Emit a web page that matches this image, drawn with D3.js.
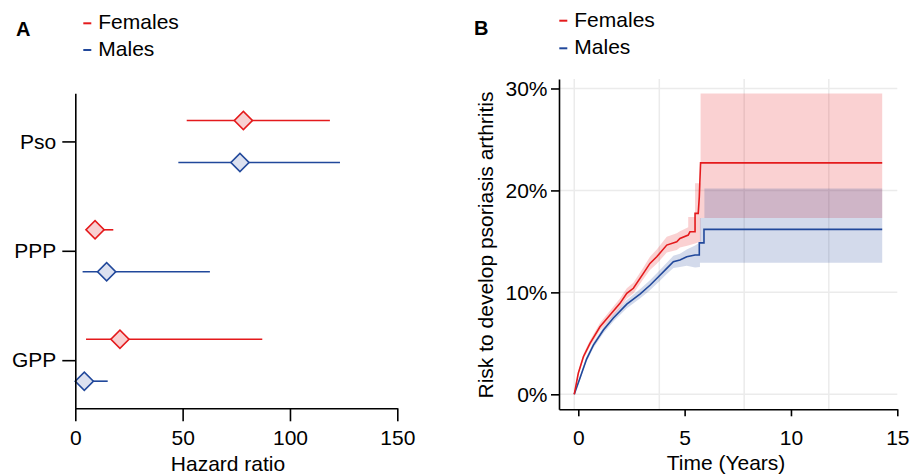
<!DOCTYPE html>
<html>
<head>
<meta charset="utf-8">
<script src="https://cdn.jsdelivr.net/npm/d3@7"></script>
<style>
  body { margin: 0; background: #fff; }
  svg { display: block; font-family: "Liberation Sans", Arial, sans-serif; }
</style>
</head>
<body>
<div id="chart"></div>
<script>
// Panel A: hazard ratios by condition and sex
const conditions = ["Pso", "PPP", "GPP"];
const sexes = ["Females", "Males"];
const hrFemales = [78.3, 9.2, 20.8];
const lowFemales = [51.9, 5.5, 5.0];
const highFemales = [118.6, 17.7, 87.1];
const hrMales = [76.7, 14.6, 4.2];
const lowMales = [48.0, 3.4, 1.0];
const highMales = [123.3, 62.7, 15.1];
const hrTicks = [0, 50, 100, 150];

// Panel B: cumulative risk (%) over time (years)
const femaleTime = [-0.19, 0.0, 0.24, 0.55, 1.02, 1.49, 1.96, 2.28, 2.59, 3.06, 3.37, 3.69, 4.16, 4.63, 4.78, 5.17, 5.25, 5.49, 5.49, 5.64, 5.69, 5.75, 14.29];
const femaleRisk = [0, 2.06, 3.69, 5.0, 6.63, 7.77, 8.92, 9.9, 10.4, 11.86, 12.84, 13.49, 14.64, 14.96, 15.29, 15.62, 15.94, 15.94, 17.75, 17.75, 19.37, 22.7, 22.7];
const femaleBandTime = [-0.19, 0.0, 0.24, 0.55, 1.02, 1.49, 1.96, 2.28, 2.59, 3.06, 3.37, 3.69, 4.16, 4.63, 4.78, 5.17, 5.17, 5.49, 5.49, 5.75, 5.75, 14.29];
const femaleLower = [0, 1.9, 3.45, 4.7, 6.25, 7.35, 8.45, 9.4, 9.9, 11.3, 12.2, 12.8, 13.9, 14.15, 14.4, 14.6, 14.6, 14.8, 14.8, 15.0, 17.3, 17.3];
const femaleUpper = [0, 2.25, 3.95, 5.3, 7.0, 8.2, 9.4, 10.4, 10.95, 12.45, 13.5, 14.2, 15.45, 15.8, 16.0, 16.4, 17.4, 17.4, 20.7, 20.7, 29.5, 29.5];

const maleTime = [-0.19, 0.08, 0.39, 0.71, 1.18, 1.65, 2.28, 2.9, 3.37, 3.84, 4.16, 4.47, 4.78, 5.1, 5.49, 5.69, 5.69, 5.91, 5.91, 14.29];
const maleRisk = [0, 1.6, 3.46, 4.83, 6.3, 7.48, 8.85, 9.83, 10.7, 11.68, 12.35, 13.0, 13.17, 13.49, 13.66, 13.66, 14.86, 14.86, 16.18, 16.18];
const maleBandTime = [-0.19, 0.08, 0.39, 0.71, 1.18, 1.65, 2.28, 2.9, 3.37, 3.84, 4.16, 4.47, 4.78, 5.1, 5.49, 5.72, 5.72, 5.93, 5.93, 14.29];
const maleLower = [0, 1.4, 3.2, 4.55, 6.0, 7.15, 8.45, 9.4, 10.2, 11.15, 11.8, 12.4, 12.5, 12.6, 12.45, 12.5, 12.9, 12.9, 12.9, 12.9];
const maleUpper = [0, 1.8, 3.7, 5.1, 6.6, 7.8, 9.25, 10.3, 11.2, 12.2, 12.9, 13.6, 13.8, 14.2, 14.6, 14.9, 17.3, 17.3, 20.2, 20.2];

const gridYears = [-0.19, 3.81, 7.8, 11.78];
const timeTicks = [0, 5, 10, 15];
const riskTicks = [0, 10, 20, 30];

const colors = { Females: "#e41a1c", Males: "#21489b" };
const fills = { Females: "#f8d0d2", Males: "#dce1f0" };

const svg = d3.select("#chart")
  .append("svg")
  .attr("width", 911)
  .attr("height", 475);

function addLegend(x, y, gap) {
  sexes.forEach((s, i) => {
    svg.append("line")
      .attr("x1", x).attr("x2", x + 8)
      .attr("y1", y + i * gap - 6).attr("y2", y + i * gap - 6)
      .attr("stroke", colors[s])
      .attr("stroke-width", 2);
    svg.append("text")
      .attr("x", x + 15)
      .attr("y", y + i * gap)
      .style("font-size", "21px")
      .text(s);
  });
}

function styleAxis(g) {
  g.selectAll("path, line").attr("stroke", "#000").attr("stroke-width", 1.6);
  g.selectAll("text").style("font-size", "21px").attr("fill", "#000").style("font-family", "Liberation Sans, Arial, sans-serif");
}

function createForestPlot() {
  const x = d3.scaleLinear().domain([0, 150]).range([75.3, 397.3]);
  const y = d3.scalePoint().domain(conditions).range([93.3, 408.3]).padding(0.44);
  const off = d3.scalePoint().domain(sexes).range([-21, 21]);

  svg.append("text")
    .attr("x", 16).attr("y", 36)
    .style("font-size", "20px").style("font-weight", "bold")
    .text("A");
  addLegend(83.3, 29.3, 26.7);

  const series = [
    { sex: "Females", hr: hrFemales, low: lowFemales, high: highFemales },
    { sex: "Males", hr: hrMales, low: lowMales, high: highMales }
  ];

  series.forEach(s => {
    const rows = conditions.map((c, i) => ({ c, hr: s.hr[i], low: s.low[i], high: s.high[i] }));
    const g = svg.append("g");
    g.selectAll("line")
      .data(rows)
      .enter()
      .append("line")
      .attr("x1", d => x(d.low))
      .attr("x2", d => x(d.high))
      .attr("y1", d => y(d.c) + off(s.sex))
      .attr("y2", d => y(d.c) + off(s.sex))
      .attr("stroke", colors[s.sex])
      .attr("stroke-width", 1.6);
    g.selectAll("path")
      .data(rows)
      .enter()
      .append("path")
      .attr("d", d3.symbol(d3.symbolSquare, 165))
      .attr("transform", d => `translate(${x(d.hr)},${y(d.c) + off(s.sex)}) rotate(45)`)
      .attr("fill", fills[s.sex])
      .attr("stroke", colors[s.sex])
      .attr("stroke-width", 1.6);
  });

  svg.append("g")
    .attr("transform", "translate(75.3,0)")
    .call(d3.axisLeft(y).tickSize(13).tickSizeOuter(0).tickPadding(6))
    .call(styleAxis);

  svg.append("g")
    .attr("transform", "translate(0,408.3)")
    .call(d3.axisBottom(x).tickValues(hrTicks).tickSize(13).tickSizeOuter(0).tickPadding(9))
    .call(styleAxis);

  svg.append("text")
    .attr("x", 228).attr("y", 470.5)
    .style("text-anchor", "middle")
    .style("font-size", "21px")
    .text("Hazard ratio");
}

function createRiskPlot() {
  const x = d3.scaleLinear().domain([-0.907, 15]).range([559, 897.3]);
  const y = d3.scaleLinear().domain([-1.47, 30.93]).range([409.3, 79]);

  svg.append("text")
    .attr("x", 474).attr("y", 35)
    .style("font-size", "20px").style("font-weight", "bold")
    .text("B");
  addLegend(559.3, 26.7, 27.6);

  // grid
  svg.append("g").selectAll("line")
    .data(gridYears)
    .enter()
    .append("line")
    .attr("x1", d => x(d)).attr("x2", d => x(d))
    .attr("y1", y.range()[1]).attr("y2", y.range()[0])
    .attr("stroke", "#ebebeb").attr("stroke-width", 1.5);
  svg.append("g").selectAll("line")
    .data(riskTicks)
    .enter()
    .append("line")
    .attr("x1", x.range()[0]).attr("x2", x.range()[1])
    .attr("y1", d => y(d)).attr("y2", d => y(d))
    .attr("stroke", "#ebebeb").attr("stroke-width", 1.5);

  const bands = [
    { sex: "Females", t: femaleBandTime, lo: femaleLower, hi: femaleUpper },
    { sex: "Males", t: maleBandTime, lo: maleLower, hi: maleUpper }
  ];
  const area = d3.area()
    .x(d => x(d.t))
    .y0(d => y(d.lo))
    .y1(d => y(d.hi));
  bands.forEach(b => {
    const rows = b.t.map((t, i) => ({ t, lo: b.lo[i], hi: b.hi[i] }));
    svg.append("path")
      .datum(rows)
      .attr("d", area)
      .attr("fill", colors[b.sex])
      .attr("fill-opacity", 0.2);
  });

  const curves = [
    { sex: "Males", t: maleTime, v: maleRisk },
    { sex: "Females", t: femaleTime, v: femaleRisk }
  ];
  const line = d3.line()
    .x(d => x(d.t))
    .y(d => y(d.v));
  curves.forEach(c => {
    const rows = c.t.map((t, i) => ({ t, v: c.v[i] }));
    svg.append("path")
      .datum(rows)
      .attr("d", line)
      .attr("fill", "none")
      .attr("stroke", colors[c.sex])
      .attr("stroke-width", 1.6);
  });

  svg.append("g")
    .attr("transform", "translate(559,0)")
    .call(d3.axisLeft(y).tickValues(riskTicks).tickFormat(d => d + "%").tickSize(8).tickSizeOuter(0).tickPadding(3.5))
    .call(styleAxis);

  svg.append("g")
    .attr("transform", "translate(0,409.3)")
    .call(d3.axisBottom(x).tickValues(timeTicks).tickSize(7).tickSizeOuter(0).tickPadding(14))
    .call(styleAxis);

  svg.append("text")
    .attr("x", 726).attr("y", 470)
    .style("text-anchor", "middle")
    .style("font-size", "21px")
    .text("Time (Years)");

  svg.append("text")
    .attr("transform", "translate(493,245) rotate(-90)")
    .style("text-anchor", "middle")
    .style("font-size", "21px")
    .text("Risk to develop psoriasis arthritis");
}

createForestPlot();
createRiskPlot();
</script>
</body>
</html>
